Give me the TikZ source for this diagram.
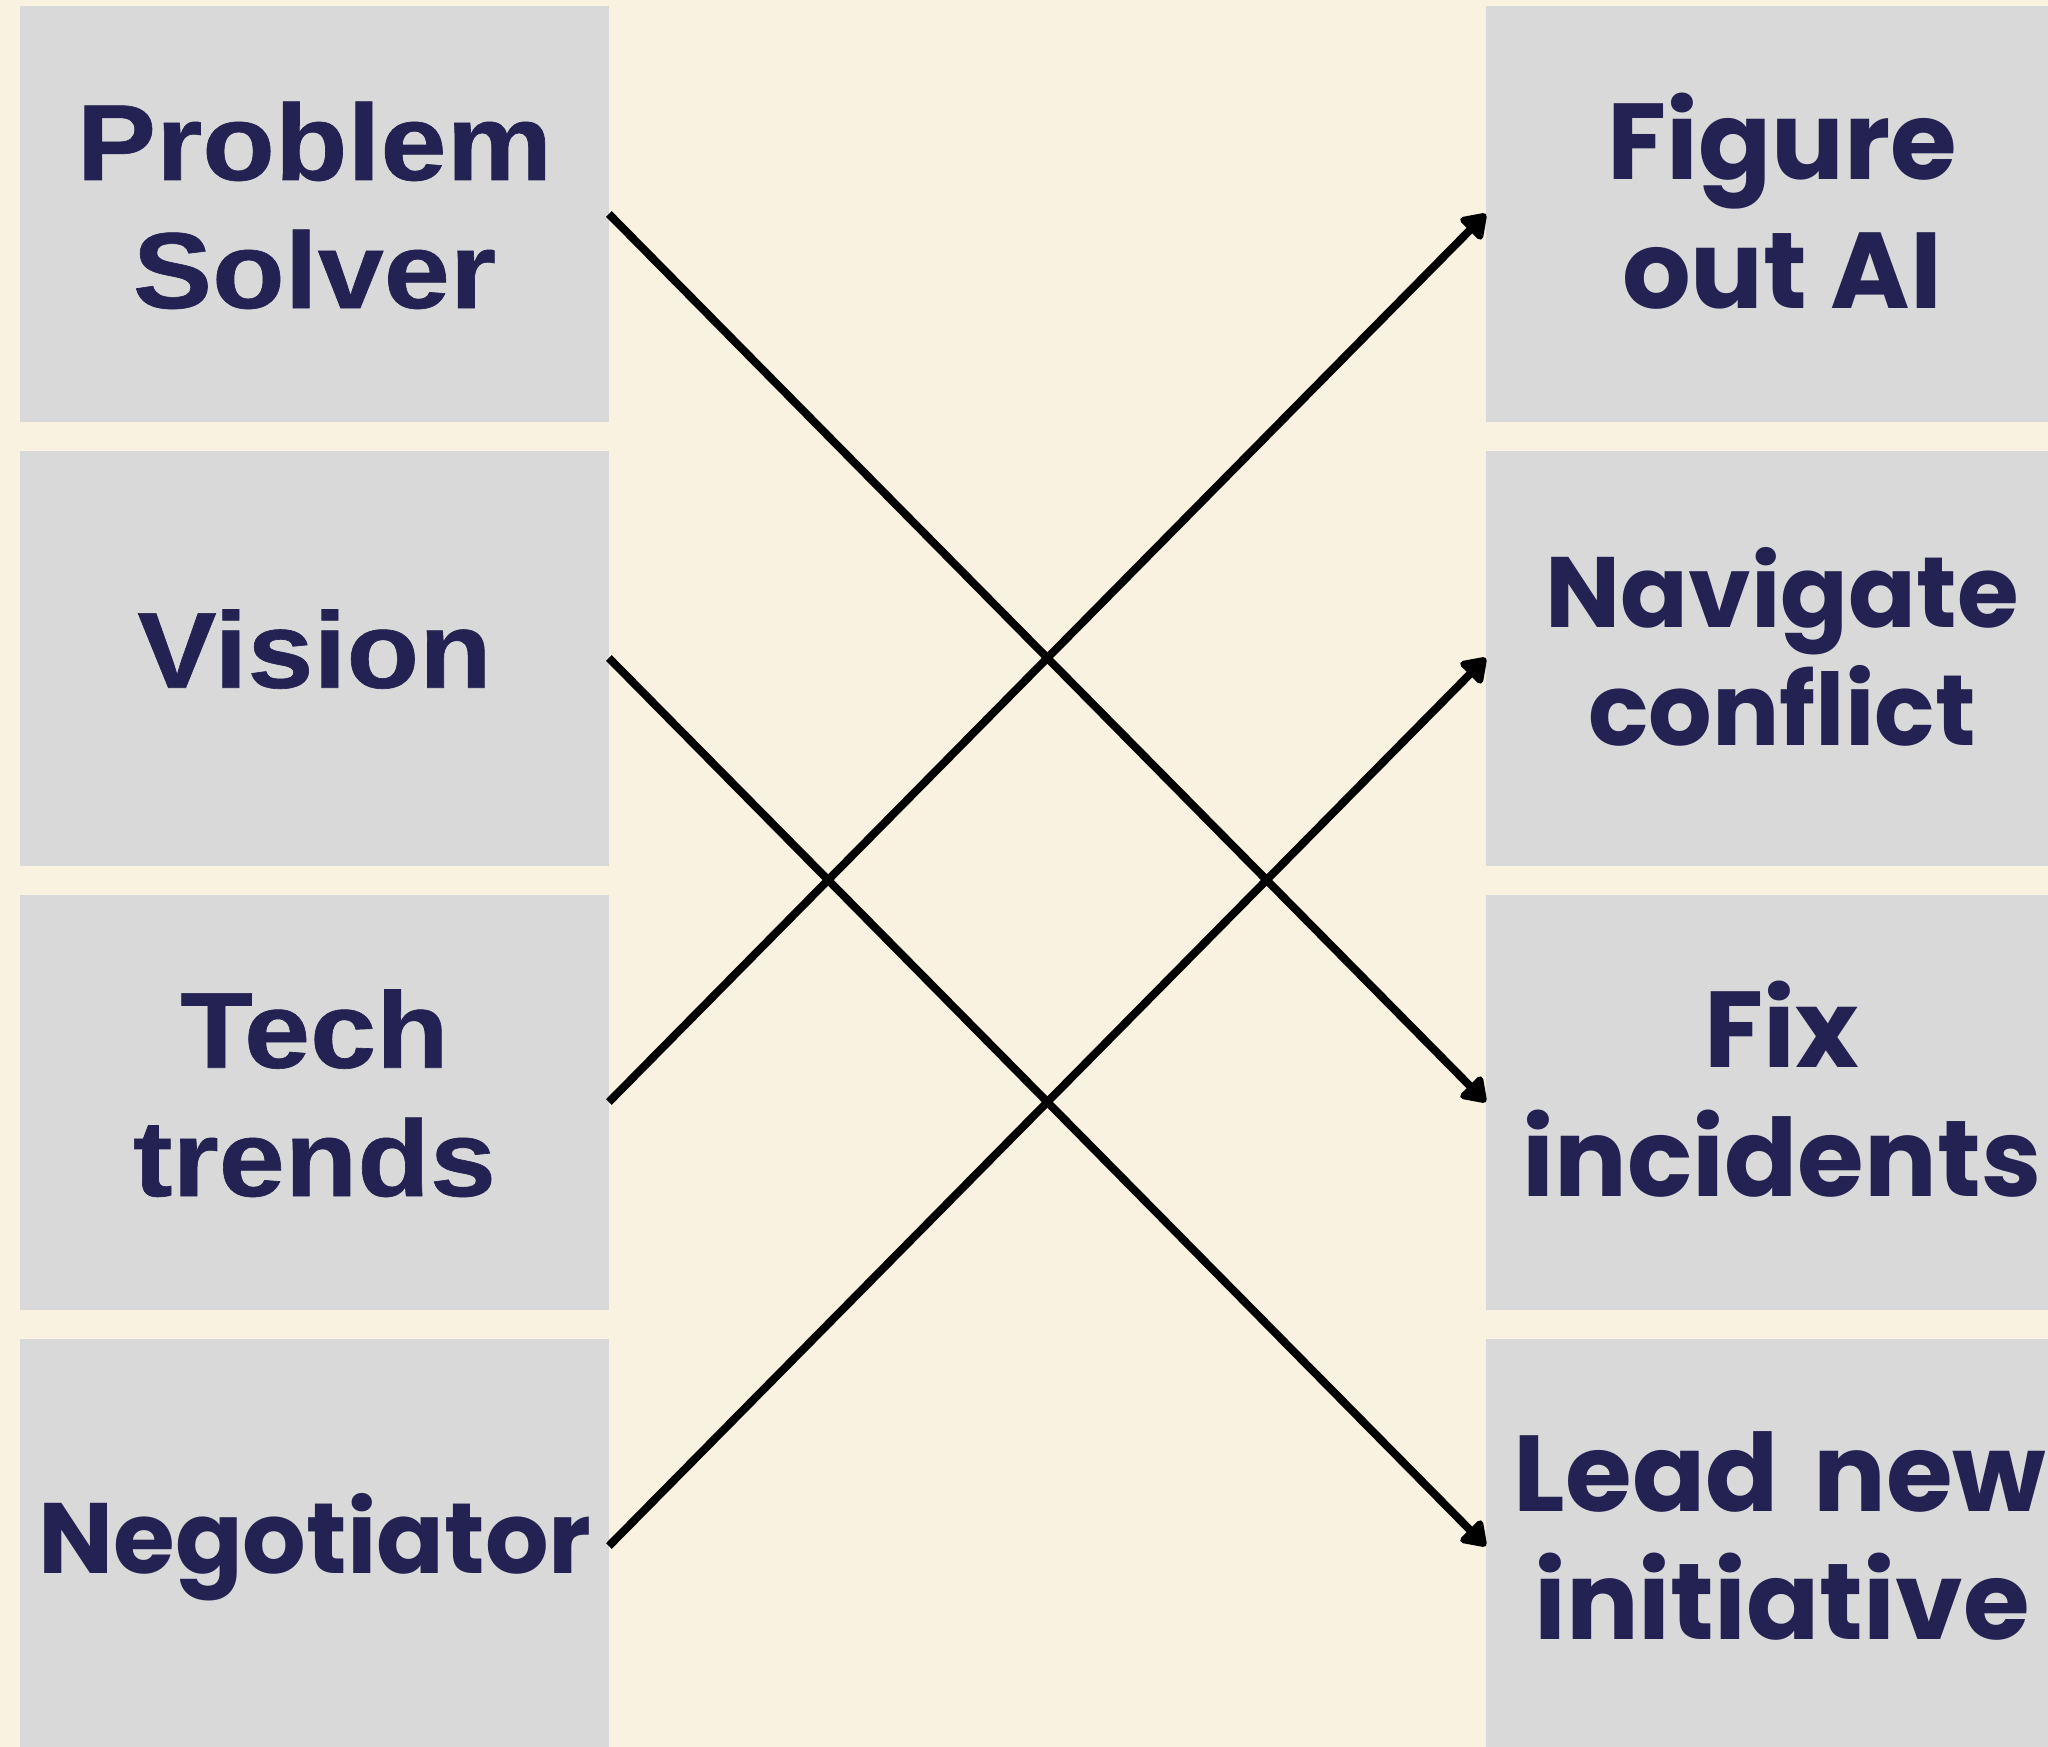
\documentclass[tikz,border=0pt]{standalone}
\usepackage{fontspec}
\usetikzlibrary{arrows.meta}
\newfontfamily\grotfont[FakeStretch=1.1,FakeBold=0.6]{Liberation Sans}
\newfontfamily\popfont{Poppins}
\definecolor{bgcol}{HTML}{FAF2E0}
\definecolor{boxcol}{HTML}{D9D9D9}
\definecolor{inkcol}{RGB}{36,34,82}
\tikzset{
  cardbox/.style={fill=boxcol, draw=none, inner sep=0pt, minimum width=589pt, minimum height=415pt},
  grottxt/.style={anchor=base, inner sep=0pt, text=inkcol, font=\grotfont\bfseries\fontsize{108}{128}\selectfont},
  poptxt/.style={anchor=base, inner sep=0pt, text=inkcol, font=\popfont\bfseries\fontsize{108}{128}\selectfont},
  popsmall/.style={anchor=base, inner sep=0pt, text=inkcol, font=\popfont\bfseries\fontsize{100}{118}\selectfont},
  link/.style={draw=black, line width=8pt, -{Triangle[round,length=26pt,width=34pt]}}
}
\begin{document}
\begin{tikzpicture}[x=1pt,y=-1pt]
\useasboundingbox (0,0) rectangle (2048,1747);
\fill[bgcol] (0,0) rectangle (2048,1747);
% left boxes
\node[cardbox] (L1) at (314.2,214) {};
\node[cardbox] (L2) at (314.2,658) {};
\node[cardbox] (L3) at (314.2,1102) {};
\node[cardbox] (L4) at (314.2,1546) {};
% right boxes
\node[cardbox] (R1) at (1780.5,214) {};
\node[cardbox] (R2) at (1780.5,658) {};
\node[cardbox] (R3) at (1780.5,1102) {};
\node[cardbox] (R4) at (1780.5,1546) {};
% left texts
\node[grottxt] (t1a) at (314.5,180) {Problem};
\node[grottxt] (t1b) at (314.5,308) {Solver};
\node[grottxt] (t2a) at (314.5,687.7) {Vision};
\node[grottxt] (t3a) at (314.5,1067.7) {Tech};
\node[grottxt] (t3b) at (314.5,1196) {trends};
\node[popsmall] (t4a) at (315,1573.3) {Negotiator};
% right texts
\node[poptxt] (u1a) at (1782,179.7) {Figure};
\node[poptxt] (u1b) at (1782,308) {out AI};
\node[popsmall] (u2a) at (1782,627.3) {Navigate};
\node[popsmall] (u2b) at (1782,745.3) {conflict};
\node[poptxt] (u3a) at (1782,1067.7) {Fix};
\node[poptxt] (u3b) at (1782,1196) {incidents};
\node[poptxt] (u4a) at (1780,1511) {Lead\hspace{0.32em}new};
\node[poptxt] (u4b) at (1782,1639.3) {initiative};
% connectors
\draw[link] (L1.east) -- (R3.west);
\draw[link] (L2.east) -- (R4.west);
\draw[link] (L3.east) -- (R1.west);
\draw[link] (L4.east) -- (R2.west);
\end{tikzpicture}
\end{document}
